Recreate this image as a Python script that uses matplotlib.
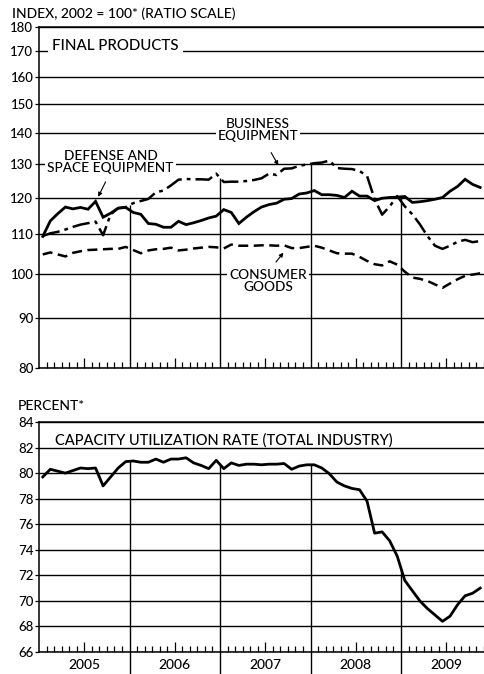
import matplotlib
matplotlib.use('Agg')
import matplotlib.pyplot as plt
import matplotlib.ticker as mticker
import numpy as np

plt.rcParams['font.family'] = ['Lato', 'DejaVu Sans']
plt.rcParams['font.weight'] = 'medium'

# monthly data, Jan 2005 - Nov 2009
start_year = 2005
defense = [109.4, 113.5, 115.5, 117.3, 116.8, 117.2, 116.7, 118.9, 114.5, 115.6,
           117.0, 117.2, 115.8, 115.3, 112.8, 112.6, 111.8, 111.8, 113.4, 112.5,
           113.0, 113.6, 114.3, 114.8, 116.6, 115.8, 112.8, 114.5, 116.0, 117.3,
           118.0, 118.4, 119.5, 119.7, 121.0, 121.3, 122.0, 120.8, 120.8, 120.6,
           120.0, 121.8, 120.4, 120.4, 119.1, 119.8, 120.0, 120.1, 120.3, 118.6,
           118.8, 119.1, 119.5, 120.0, 121.8, 123.2, 125.3, 123.8, 122.9]
business = [109.5, 110.2, 110.6, 111.2, 111.9, 112.5, 112.9, 113.3, 109.7, 115.3,
            117.0, 117.3, 118.4, 119.0, 119.6, 121.5, 122.0, 123.5, 125.2, 125.4,
            125.3, 125.3, 125.2, 127.0, 124.5, 124.6, 124.6, 124.8, 125.1, 125.6,
            127.0, 126.6, 128.5, 128.6, 129.4, 129.8, 130.2, 130.4, 131.0, 128.7,
            128.5, 128.4, 127.8, 126.3, 119.5, 115.2, 117.5, 120.4, 117.5, 115.3,
            112.6, 109.5, 107.0, 106.2, 107.0, 108.0, 108.5, 107.9, 108.2]
consumer = [104.8, 105.3, 104.8, 104.3, 105.2, 105.6, 105.9, 106.0, 106.1, 106.2,
            106.2, 106.7, 105.9, 105.1, 105.8, 106.1, 106.2, 106.5, 105.8, 106.0,
            106.3, 106.5, 106.7, 106.6, 106.3, 107.3, 107.0, 107.0, 107.0, 107.1,
            107.1, 107.0, 107.1, 106.4, 106.4, 106.7, 107.0, 106.5, 105.8, 105.1,
            105.0, 105.0, 104.2, 103.2, 102.4, 102.1, 103.1, 102.3, 100.6, 99.2,
            98.9, 98.4, 97.6, 96.8, 97.8, 98.8, 99.6, 99.9, 100.2]
capacity = [79.7, 80.3, 80.15, 80.0, 80.2, 80.4, 80.35, 80.4, 79.0, 79.7,
            80.4, 80.9, 80.95, 80.85, 80.85, 81.1, 80.85, 81.1, 81.1, 81.2,
            80.8, 80.6, 80.35, 81.0, 80.35, 80.8, 80.6, 80.7, 80.7, 80.65,
            80.7, 80.7, 80.75, 80.3, 80.55, 80.65, 80.65, 80.4, 79.95, 79.3,
            79.0, 78.8, 78.7, 77.8, 75.3, 75.4, 74.7, 73.5, 71.6, 70.8,
            70.0, 69.4, 68.9, 68.4, 68.8, 69.7, 70.4, 70.6, 71.0]
years = [2005, 2006, 2007, 2008, 2009]
top_ticks = [80, 90, 100, 110, 120, 130, 140, 150, 160, 170, 180]
bot_ticks = [66, 68, 70, 72, 74, 76, 78, 80, 82, 84]

t = start_year + (np.arange(len(defense)) + 0.5) / 12.0
xmax = 2005 + 445 / 90.5

fig = plt.figure(figsize=(4.84, 6.74), dpi=100)
ax1 = fig.add_axes([39/484, 1-368/674, 1-39/484, (368-27)/674])
ax2 = fig.add_axes([39/484, 1-652/674, 1-39/484, (652-422)/674])

def style_axis(ax, yticks):
    ax.set_xlim(2005, xmax)
    ax.spines['right'].set_visible(False)
    for s in ['left', 'top', 'bottom']:
        ax.spines[s].set_linewidth(1.1)
    ax.set_yticks(yticks)
    ax.yaxis.set_major_formatter(mticker.FormatStrFormatter('%d'))
    ax.yaxis.set_minor_locator(mticker.NullLocator())
    ax.tick_params(axis='y', direction='out', length=3, width=0.9, labelsize=9.5, pad=1)
    ax.set_xticks([y + 0.5 for y in years])
    ax.set_xticks([y + m/12 for y in years for m in range(1, 12) if m != 6], minor=True)
    ax.tick_params(axis='x', which='major', direction='in', length=7, width=0.9, labelbottom=False)
    ax.tick_params(axis='x', which='minor', direction='in', length=4, width=0.9)
    ax.grid(axis='y', color='black', linewidth=1.0)
    ax.set_axisbelow(True)

# top panel: ratio scale
ax1.set_yscale('log')
ax1.set_ylim(80, 180)
style_axis(ax1, top_ticks)
ax1.plot(t, defense, color='black', lw=2.0, solid_joinstyle='miter')
ax1.plot(t, business, color='black', lw=1.8, dashes=(7, 2, 1.5, 2))
ax1.plot(t, consumer, color='black', lw=1.8, dashes=(4, 2.2))
for b in years[1:]:
    top = max(np.interp(b, t, s) for s in (defense, business, consumer))
    ax1.vlines(b, 80, top, color='black', lw=1.0)

bb = dict(facecolor='white', edgecolor='none', pad=1.5)
ax1.text(0.03, 0.943, 'FINAL PRODUCTS', transform=ax1.transAxes, fontsize=10.8,
         va='center', ha='left', bbox=dict(facecolor='white', edgecolor='none', pad=3))
ax1.text(2005.79, 130.5, 'DEFENSE AND\nSPACE EQUIPMENT', fontsize=9.8, ha='center',
         va='center', linespacing=1.0, bbox=bb)
ax1.annotate('', xy=(2005.64, 119.5), xytext=(2005.75, 125.3),
             arrowprops=dict(arrowstyle='-|>', color='black', lw=0.8, mutation_scale=6))
ax1.text(2007.42, 140.8, 'BUSINESS\nEQUIPMENT', fontsize=9.8, ha='center',
         va='center', linespacing=1.0, bbox=bb)
ax1.annotate('', xy=(2007.66, 128.8), xytext=(2007.55, 134.3),
             arrowprops=dict(arrowstyle='-|>', color='black', lw=0.8, mutation_scale=6))
ax1.text(2007.53, 98.4, 'CONSUMER\nGOODS', fontsize=9.8, ha='center',
         va='center', linespacing=1.0, bbox=bb)
ax1.annotate('', xy=(2007.72, 105.8), xytext=(2007.6, 102.4),
             arrowprops=dict(arrowstyle='-|>', color='black', lw=0.8, mutation_scale=6))

# bottom panel
ax2.set_ylim(66, 84)
style_axis(ax2, bot_ticks)
ax2.plot(t, capacity, color='black', lw=2.0)
for b in years[1:]:
    ax2.vlines(b, 66, np.interp(b, t, capacity), color='black', lw=1.0)
    ax2.plot([b, b], [0, -0.1], color='black', lw=1.0, clip_on=False,
             transform=ax2.get_xaxis_transform())
for y in years:
    ax2.text(y + 0.5, -0.055, str(y), transform=ax2.get_xaxis_transform(),
             ha='center', va='center', fontsize=10)
ax2.text(0.035, 0.92, 'CAPACITY UTILIZATION RATE (TOTAL INDUSTRY)', transform=ax2.transAxes,
         fontsize=10.5, va='center', ha='left')

fig.text(12/484, 1-14/674, 'INDEX, 2002 = 100* (RATIO SCALE)', fontsize=10, va='center')
fig.text(18/484, 1-406/674, 'PERCENT*', fontsize=10, va='center')

plt.savefig('out.png', dpi=100)
